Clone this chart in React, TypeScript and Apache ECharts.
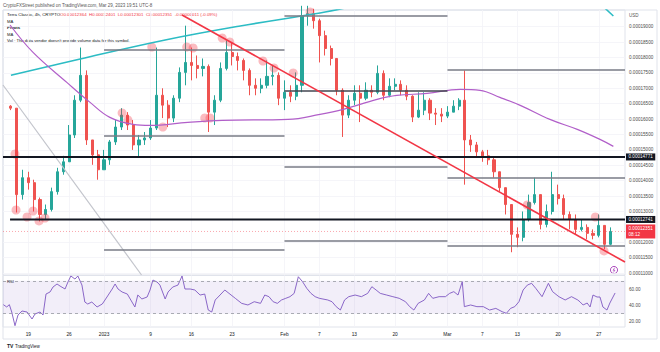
import React, { useEffect, useRef } from "react";
import * as echarts from "echarts";

// Prices are in units of 1e-8 USD (0.00012351 USD -> 12351)
// x positions are day indices: 0 = Dec 16 2022, 16 = Jan 1 2023, 47 = Feb 1, 75 = Mar 1, 103 = Mar 29
const firstOpen = 16420;
const closes = [
  16355, 13548, 14097, 13936, 13387, 12903, 13065, 13645, 14290, 14613,
  15484, 16613, 17420, 15323, 14839, 14355, 14678, 15258, 15742, 16129,
  15807, 15161, 15323, 15387, 15710, 16774, 16452, 16032, 16678, 17516,
  17839, 17742, 17645, 17710, 16226, 16613, 17645, 18162, 18033, 17904,
  17581, 17097, 17000, 17097, 17387, 17420, 16678, 16871, 16742, 17097,
  19355, 19420, 19194, 18710, 18291, 17968, 16936, 16129, 16613, 16839,
  16678, 16936, 16871, 17484, 16774, 17065, 17129, 16936, 16742, 16065,
  16291, 16613, 16194, 16161, 16097, 16226, 16420, 16613, 15323, 15161,
  14936, 14807, 14678, 14290, 13774, 13226, 12258, 12161, 12742, 13290,
  13548, 12581, 13000, 13548, 13420, 12903, 12742, 12419, 12484, 12290,
  12226, 12548, 11935, 12351,
];
const highs = [
  16452, 16355, 14355, 14290, 14032, 13452, 13226, 13774, 14419, 14807,
  15807, 16774, 18323, 17581, 15323, 15000, 15000, 15323, 15968, 16355,
  16226, 15968, 15484, 15581, 15968, 18323, 17000, 16613, 16774, 17678,
  19033, 18323, 18065, 17968, 17774, 16774, 17839, 18549, 18484, 18162,
  17968, 17645, 17323, 17323, 17904, 17742, 17516, 17258, 17097, 17516,
  19678, 19678, 19581, 19258, 18871, 18387, 17968, 17000, 16774, 17097,
  17097, 17194, 17097, 17742, 17581, 17323, 17323, 17258, 17097, 16774,
  16871, 16871, 16678, 16355, 16355, 16420, 16613, 16678, 17581, 15484,
  15258, 15000, 15000, 14742, 14290, 13774, 13226, 12484, 13000, 13548,
  14097, 13548, 13226, 14290, 13871, 13548, 13000, 12903, 12742, 12581,
  12419, 12903, 12548, 12484,
];
const lows = [
  16291, 12968, 13387, 13710, 13000, 12677, 12742, 13000, 13548, 14194,
  14613, 15387, 16549, 15161, 14516, 14032, 14355, 14516, 15161, 15645,
  15645, 15000, 14774, 15161, 15323, 15645, 16032, 15742, 15903, 16549,
  17097, 17258, 17323, 17387, 15581, 15807, 16549, 17581, 17742, 17581,
  17258, 16774, 16774, 16839, 17000, 17097, 16452, 16291, 16549, 16613,
  16871, 19033, 18936, 17839, 18065, 17742, 16774, 15420, 16032, 16452,
  15903, 16613, 16710, 16807, 16613, 16710, 16936, 16774, 16613, 15903,
  16032, 16129, 15968, 15807, 15903, 16032, 16226, 16291, 13871, 14936,
  14742, 14613, 14516, 14097, 13645, 12903, 11677, 11839, 12032, 12677,
  13226, 12419, 12484, 12903, 13226, 12742, 12419, 12258, 12355, 12097,
  12097, 12161, 11774, 11903,
];

// moving averages [day, price]
const tealMaLeft = [[0, 17422], [11.9, 17951], [26.5, 18568], [39.4, 19023], [53.1, 19445], [57.4, 19607]];
const tealMaRight = [[101.5, 19700], [103.5, 19347]];
const purpleMa = [
  [-0.15, 19055], [3.8, 18166], [9.6, 17192], [13.6, 16542], [17.0, 16055], [21.0, 15828],
  [23.9, 15795], [30.4, 15893], [36.3, 15958], [47.6, 15990], [53.1, 16153], [57.1, 16315],
  [62.9, 16640], [66.3, 16769], [71.5, 16834], [77.2, 16964], [80.6, 16932], [84.0, 16705],
  [87.5, 16445], [92.6, 15990], [97.3, 15666], [101.2, 15341], [103.5, 15114],
];
const grayTrend = [[-1.36, 17107], [22.44, 10938]];
const redTrend = [[29.4, 19380], [105.5, 11360]];
const levelLines = [14771, 12741];
const levelStarts = [-1.36, -0.15];
const lastPrice = 12351;
const countdown = "08:12";

const pivotNames = ["R1", "P", "S1", "R1", "P", "S1", "S2", "P", "S1", "S2"];
const pivotValues = [18244, 15451, 11750, 19347, 16912, 14445, 12042, 17594, 14088, 11880];
const pivotFrom = [16, 16, 16, 47, 47, 47, 47, 75, 75, 75];
const pivotTo = [47, 47, 47, 75, 75, 75, 75, 105.5, 105.5, 105.5];
const pivotColors = ["#787b86", "#787b86", "#787b86", "#787b86", "#434651", "#787b86", "#787b86", "#787b86", "#787b86", "#787b86"];

const touchPoints = [
  [0.7, 14867], [0.88, 13049], [2.77, 12821], [3.8, 13016], [4.83, 12692], [5.86, 12789],
  [19.1, 16198], [20.1, 15971], [24.2, 18341], [26.1, 15743], [30.2, 18341], [31.3, 18308],
  [33.3, 16036], [34.2, 16036], [36.3, 18633], [37.6, 18503], [43.3, 17886], [45.2, 17659],
  [48.5, 17497], [51.4, 19477], [88.7, 13211], [100.4, 12821], [101.9, 11718],
];

const rsiPoints = [
  [-1.3, 41.0], [-0.72, 38.2], [-0.27, 41.0], [0.14, 32.1], [0.7, 15.5], [1.22, 28.5], [1.91, 33.3],
  [2.77, 32.1], [3.63, 23.6], [4.14, 29.7], [5.0, 32.1], [5.52, 28.5], [6.03, 53.9], [6.72, 56.4],
  [7.23, 62.4], [7.92, 66.1], [8.44, 63.6], [9.3, 60.0], [9.8, 68.5], [10.3, 75.8], [11.0, 72.1],
  [11.5, 75.8], [12.2, 64.8], [12.7, 44.2], [13.2, 41.8], [13.9, 44.2], [14.8, 38.2], [15.7, 41.8],
  [16.5, 50.3], [17.4, 60.0], [17.9, 66.1], [18.4, 60.0], [19.1, 56.4], [20.0, 53.9], [20.8, 44.2],
  [21.3, 38.2], [21.8, 52.7], [22.5, 47.9], [23.4, 50.3], [23.9, 58.8], [24.4, 70.9], [25.1, 68.5],
  [25.6, 64.8], [26.5, 47.9], [27.0, 56.4], [27.8, 62.4], [28.7, 64.8], [29.4, 75.8], [29.9, 60.0],
  [30.8, 60.0], [31.6, 58.8], [32.5, 52.7], [33.3, 53.9], [33.9, 34.5], [34.5, 32.1], [35.1, 46.7],
  [35.6, 50.3], [36.75, 58.8], [37.47, 54.7], [38.55, 48.7], [39.64, 42.6], [40.72, 40.6],
  [41.8, 44.6], [42.88, 42.6], [43.61, 52.7], [44.33, 50.7], [45.05, 44.6], [45.77, 42.6],
  [46.49, 46.7], [47.22, 48.7], [47.94, 50.7], [48.66, 54.7], [49.38, 74.9], [50.1, 68.9],
  [50.83, 60.8], [51.55, 54.7], [52.27, 50.7], [52.99, 48.7], [54.43, 46.7], [55.16, 44.6],
  [55.88, 38.6], [56.6, 34.5], [57.32, 46.7], [58.04, 50.7], [59.13, 52.7], [60.21, 50.7],
  [61.29, 54.7], [62.01, 62.8], [62.74, 58.8], [63.46, 54.7], [64.54, 52.7], [65.62, 50.7],
  [66.71, 48.7], [67.79, 44.6], [68.51, 38.6], [69.23, 34.5], [69.96, 42.6], [71.04, 46.7],
  [71.76, 54.7], [72.48, 48.7], [73.56, 50.7], [74.65, 50.7], [75.37, 54.7], [76.09, 56.8],
  [76.81, 52.7], [77.54, 68.9], [77.9, 38.6], [78.98, 40.6], [80.06, 38.6], [81.15, 38.6],
  [82.23, 34.5], [83.31, 36.5], [84.39, 32.5], [85.12, 30.5], [85.84, 36.5], [86.56, 38.6],
  [87.28, 44.6], [88.0, 58.8], [88.73, 64.8], [89.45, 66.9], [90.17, 60.8], [91.25, 50.7],
  [92.34, 66.9], [93.06, 56.8], [94.14, 50.7], [95.22, 46.7], [96.31, 50.7], [97.39, 46.7],
  [97.8, 44.2], [98.3, 40.6], [99.0, 43.0], [99.5, 38.2], [100.0, 52.7], [100.7, 50.3],
  [101.2, 50.3], [101.7, 38.2], [102.4, 34.5], [102.9, 43.0], [103.8, 55.2],
];

const priceTicks = [11000, 11500, 12000, 13000, 13500, 14000, 14500, 15000, 15500, 16000, 16500, 17000, 17500, 18000, 18500, 19000];
const rsiTicks = [20, 40, 60];
const dateTickDays = [3, 10, 16, 24, 31, 38, 47, 53, 59, 66, 75, 81, 87, 94, 101];
const dateTickLabels = ["19", "26", "2023", "9", "16", "23", "Feb", "7", "13", "20", "Mar", "7", "13", "20", "27"];

const X_MIN = -1.36;
const X_MAX = 105.5;
const FONT = "Liberation Sans, Arial, sans-serif";
const fmtPrice = (v: number) => (v / 1e8).toFixed(8);

function buildOption() {
  const candleData = closes.map((c, i) => [i, i === 0 ? firstOpen : closes[i - 1], c, lows[i], highs[i]]);
  const noLabel = { show: false };
  const lineBase = (data: any[], color: string, width: number, extra: any = {}) => ({
    type: "line",
    xAxisIndex: 0,
    yAxisIndex: 0,
    data,
    symbol: "none",
    silent: true,
    lineStyle: { color, width },
    ...extra,
  });

  const series: any[] = [
    {
      type: "candlestick",
      xAxisIndex: 0,
      yAxisIndex: 0,
      data: candleData,
      barWidth: 2.6,
      silent: true,
      itemStyle: {
        color: "#26a69a",
        color0: "#ef5350",
        borderColor: "#26a69a",
        borderColor0: "#ef5350",
        borderColorDoji: "#5d606b",
        borderWidth: 1,
      },
    },
    lineBase(grayTrend, "#c3c5cc", 1.2),
    lineBase(tealMaLeft, "#2cbcc4", 1.6, { smooth: 0.4 }),
    lineBase(tealMaRight, "#2cbcc4", 1.6),
    lineBase(purpleMa, "#b15fc9", 1.2, { smooth: 0.4 }),
  ];

  pivotValues.forEach((v, i) => {
    series.push(lineBase([[pivotFrom[i], v], [pivotTo[i], v]], pivotColors[i], 1.3));
  });
  series.push({
    type: "scatter",
    xAxisIndex: 0,
    yAxisIndex: 0,
    silent: true,
    symbolSize: 1,
    itemStyle: { opacity: 0 },
    data: pivotValues.map((v, i) => ({
      value: [pivotFrom[i], v],
      label: {
        show: true,
        position: "left",
        distance: 2,
        formatter: pivotNames[i],
        fontSize: 4.3,
        color: "#555",
        fontFamily: FONT,
      },
    })),
  });

  series.push(
    lineBase([[X_MIN, lastPrice], [X_MAX, lastPrice]], "rgba(242,54,69,0.55)", 0.8, {
      lineStyle: { color: "rgba(242,54,69,0.55)", width: 0.8, type: [1, 2] },
      endLabel: {
        show: true,
        distance: 1,
        formatter: () => `${fmtPrice(lastPrice)}\n${countdown}`,
        color: "#fff",
        backgroundColor: "#f23645",
        padding: [1.5, 2.5],
        fontSize: 4.6,
        lineHeight: 5.5,
        fontFamily: FONT,
      },
    })
  );

  levelLines.forEach((v, i) => {
    series.push(
      lineBase([[levelStarts[i], v], [X_MAX, v]], "#131722", 2, {
        endLabel: {
          show: true,
          distance: 1,
          formatter: () => fmtPrice(v),
          color: "#fff",
          backgroundColor: "#131722",
          padding: [1, 2.5],
          fontSize: 4.6,
          fontFamily: FONT,
        },
      })
    );
  });

  series.push(lineBase(redTrend, "#f23645", 1.6));

  series.push({
    type: "scatter",
    xAxisIndex: 0,
    yAxisIndex: 0,
    silent: true,
    symbolSize: 9,
    itemStyle: { color: "rgba(242,54,69,0.42)" },
    label: noLabel,
    data: touchPoints,
  });

  series.push({
    type: "line",
    xAxisIndex: 1,
    yAxisIndex: 1,
    data: rsiPoints,
    symbol: "none",
    silent: true,
    lineStyle: { color: "#7e57c2", width: 0.9 },
    markArea: {
      silent: true,
      itemStyle: { color: "rgba(126,87,194,0.1)" },
      data: [[{ yAxis: 30 }, { yAxis: 70 }]],
    },
    markLine: {
      silent: true,
      symbol: "none",
      label: { show: false },
      lineStyle: { color: "#9598a1", width: 0.8, type: [3, 3] },
      data: [{ yAxis: 70 }, { yAxis: 30 }],
    },
  });

  const xAxisBase = (gridIndex: number, showLabel: boolean) => ({
    type: "value",
    gridIndex,
    min: X_MIN,
    max: X_MAX,
    axisLine: { show: false },
    axisTick: { show: false, customValues: dateTickDays },
    axisLabel: {
      show: showLabel,
      customValues: dateTickDays,
      formatter: (v: number) => dateTickLabels[dateTickDays.indexOf(Math.round(v))] ?? "",
      fontSize: 4.8,
      color: "#131722",
      margin: 5,
      fontFamily: FONT,
    },
    splitLine: { show: true, lineStyle: { color: "#f2f3f7", width: 0.8 } },
  });

  const texts: any[] = [
    { x: 3, y: 2.5, text: "CryptoFXStreet published on TradingView.com, Mar 29, 2023 19:51 UTC-8", size: 4.5, fill: "#555" },
    { x: 7, y: 12.5, text: "Terra Classic, 4h, CRYPTO", size: 4.4, fill: "#131722" },
    { x: 60, y: 12.5, text: "O0.00012364  H0.00012401  L0.00012301  C0.00012351  -0.00000011 (-0.09%)", size: 4.4, fill: "#f23645" },
    { x: 7, y: 19, text: "MA", size: 4.2, fill: "#131722" },
    { x: 7, y: 25.5, text: "Pivots", size: 4.4, fill: "#131722", bold: true },
    { x: 7, y: 32, text: "MA", size: 4.2, fill: "#131722" },
    { x: 7, y: 38.5, text: "Vol · The data vendor doesn't provide volume data for this symbol.", size: 4.2, fill: "#131722" },
    { x: 629, y: 12.5, text: "USD", size: 4.5, fill: "#555" },
    { x: 7, y: 279, text: "RSI", size: 4.2, fill: "#131722" },
    { x: 15, y: 344, text: "TradingView", size: 4.5, fill: "#131722" },
    { x: 7, y: 343.5, text: "TV", size: 5, fill: "#131722", bold: true },
  ];

  const graphic: any[] = [
    { type: "rect", shape: { x: 3, y: 10, width: 654, height: 329 }, style: { fill: "none", stroke: "#e0e3eb", lineWidth: 1 }, silent: true },
    ...texts.map((t) => ({
      type: "text",
      x: t.x,
      y: t.y,
      silent: true,
      style: { text: t.text, fontSize: t.size, fill: t.fill, fontFamily: FONT, fontWeight: t.bold ? "bold" : "normal" },
    })),
    { type: "circle", shape: { cx: 614, cy: 270, r: 3.6 }, style: { fill: "#fff", stroke: "#9c27b0", lineWidth: 0.8 }, silent: true },
    { type: "polyline", shape: { points: [[614.8, 267.6], [613, 270.3], [615, 270.1], [613.3, 272.5]] }, style: { fill: "none", stroke: "#9c27b0", lineWidth: 0.6 }, silent: true },
  ];

  return {
    animation: false,
    backgroundColor: "#ffffff",
    textStyle: { fontFamily: FONT },
    grid: [
      { left: 3, top: 10, width: 622, height: 265, show: true, borderColor: "#e0e3eb", borderWidth: 1, backgroundColor: "transparent" },
      { left: 3, top: 275.5, width: 622, height: 51.5, show: true, borderColor: "#e0e3eb", borderWidth: 1, backgroundColor: "transparent" },
    ],
    xAxis: [xAxisBase(0, false), xAxisBase(1, true)],
    yAxis: [
      {
        type: "value",
        gridIndex: 0,
        position: "right",
        min: 10938,
        max: 19542,
        axisLine: { show: false },
        axisTick: { show: false, customValues: priceTicks },
        axisLabel: { customValues: priceTicks, formatter: fmtPrice, fontSize: 4.6, color: "#4a4a4a", margin: 4, fontFamily: FONT },
        splitLine: { show: true, lineStyle: { color: "#f2f3f7", width: 0.8 } },
      },
      {
        type: "value",
        gridIndex: 1,
        position: "right",
        min: 13.9,
        max: 76.4,
        axisLine: { show: false },
        axisTick: { show: false, customValues: rsiTicks },
        axisLabel: { customValues: rsiTicks, formatter: (v: number) => v.toFixed(2), fontSize: 4.6, color: "#4a4a4a", margin: 4, fontFamily: FONT },
        splitLine: { show: false },
      },
    ],
    series,
    graphic,
  };
}

export default function App() {
  const ref = useRef<HTMLDivElement>(null);
  useEffect(() => {
    if (!ref.current) return;
    const chart = echarts.init(ref.current, null, { renderer: "svg" });
    chart.setOption(buildOption() as any);
    return () => chart.dispose();
  }, []);
  return <div ref={ref} style={{ position: "absolute", left: 0, top: 0, width: 660, height: 352 }} />;
}
